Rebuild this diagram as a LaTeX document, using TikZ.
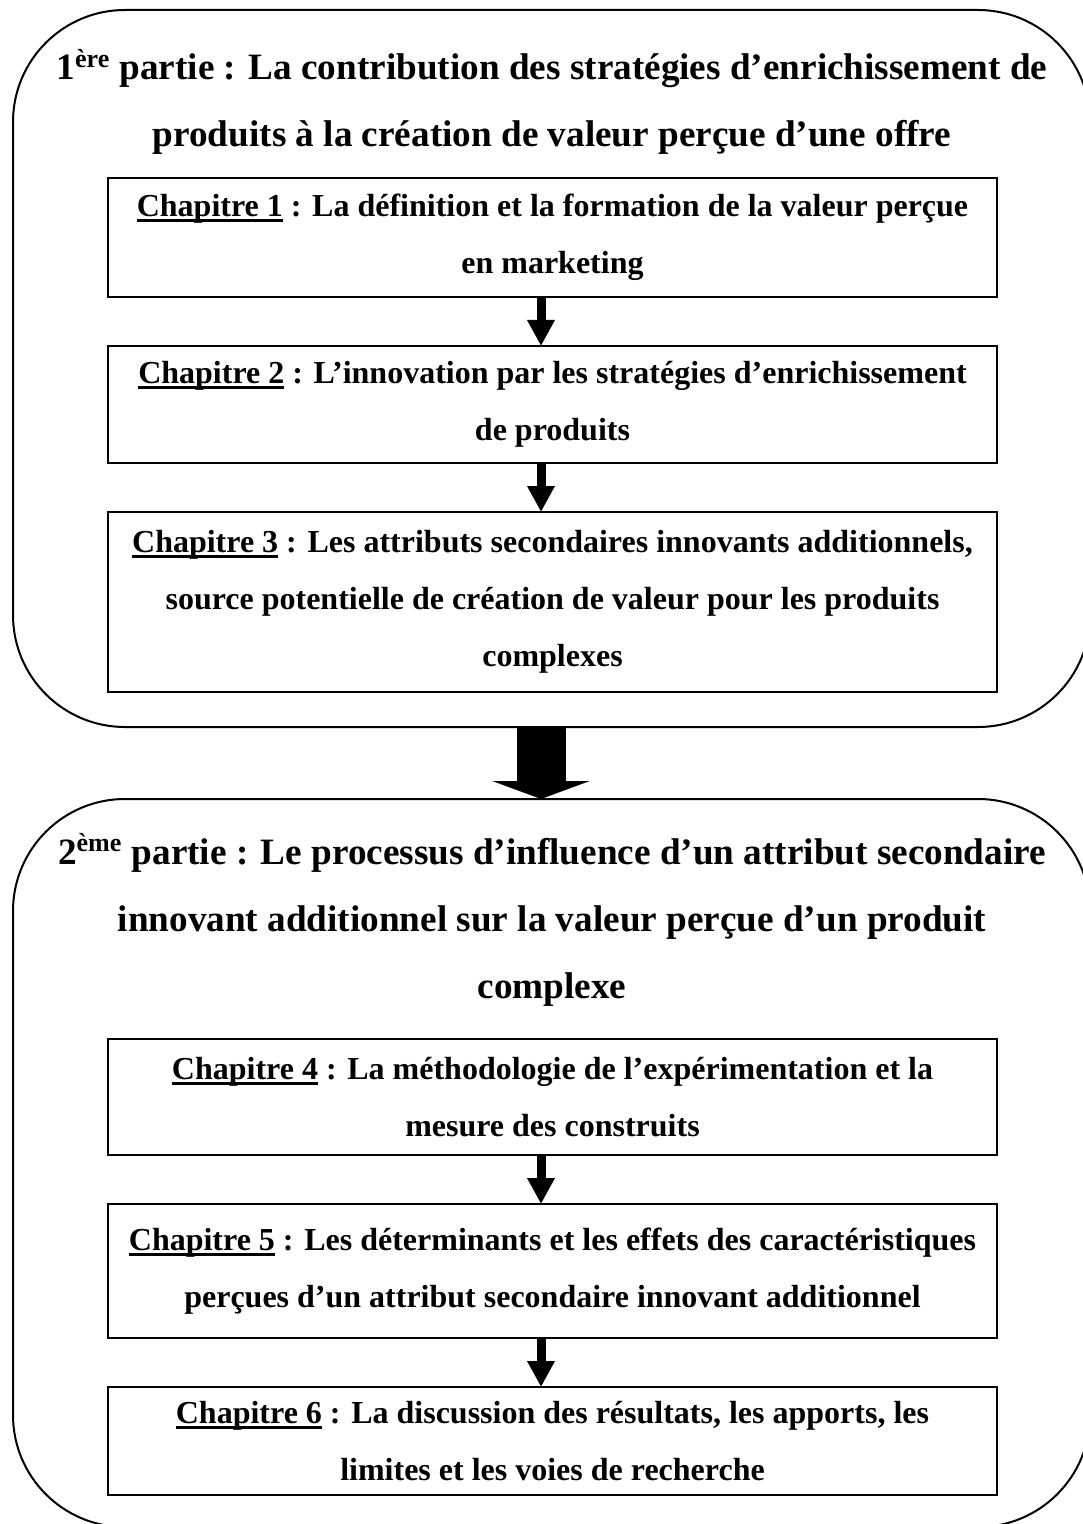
\documentclass[tikz,border=0pt]{standalone}
\usepackage{fontspec}
\setmainfont{Liberation Serif}
\usetikzlibrary{arrows.meta}
% sizes in pixels of the page (1px = 0.5pt)
\newcommand{\chapwidth}{444.5pt}
\newcommand{\partwidth}{538.5pt}
\newcommand{\midx}{541}
\newcommand{\textx}{552.5}
\newcommand{\titlefont}{\fontsize{18.6}{33.5}\selectfont\bfseries}
\newcommand{\chapfont}{\fontsize{16}{28.5}\selectfont\bfseries}
\newcommand{\chapnum}[1]{%
  \setbox0\hbox{Chapitre #1}\rlap{\rule[-2.6pt]{\wd0}{1.5pt}}\box0\relax}
\tikzset{
  partbox/.style={draw, line width=1pt, rounded corners=56pt,
    minimum width=\partwidth, inner sep=0pt, outer sep=0pt},
  parttitle/.style={align=center, font=\titlefont, inner sep=0pt,
    anchor=base},
  chapbox/.style={draw, line width=1pt, minimum width=\chapwidth,
    align=center, font=\chapfont, inner sep=0pt, outer sep=0pt},
  thinarrow/.style={line width=4.5pt,
    -{Triangle[width=13pt,length=13pt]}},
  bigarrow/.style={line width=24.5pt,
    -{Triangle[width=48.5pt,length=9pt]}}
}
\begin{document}
\begin{tikzpicture}[x=0.5pt,y=-0.5pt]
  \useasboundingbox (0,0) rectangle (1082,1524);
  \coordinate (mid) at (\midx,0);
  % first part
  \node[partbox, minimum height=358.5pt] (part1) at (551.5,368.5) {};
  \node[parttitle] (title1) at (552,147)
    {1\textsuperscript{ère} partie : La contribution des stratégies d’enrichissement de\\
     produits à la création de valeur perçue d’une offre};
  \node[chapbox, minimum height=59.5pt] (chap1) at (\textx,237.5)
    {\chapnum{1} : La définition et la formation de la valeur perçue\\
     en marketing};
  \node[chapbox, minimum height=58.5pt] (chap2) at (\textx,404.5)
    {\chapnum{2} : L’innovation par les stratégies d’enrichissement\\
     de produits};
  \node[chapbox, minimum height=90pt] (chap3) at (\textx,602)
    {\chapnum{3} : Les attributs secondaires innovants additionnels,\\
     source potentielle de création de valeur pour les produits\\
     complexes};
  % second part
  \node[partbox, minimum height=364pt] (part2) at (551.5,1163) {};
  \node[parttitle] (title2) at (552,998)
    {2\textsuperscript{ème} partie : Le processus d’influence d’un attribut secondaire\\
     innovant additionnel sur la valeur perçue d’un produit\\
     complexe};
  \node[chapbox, minimum height=58pt] (chap4) at (\textx,1097)
    {\chapnum{4} : La méthodologie de l’expérimentation et la\\
     mesure des construits};
  \node[chapbox, minimum height=67pt] (chap5) at (\textx,1271)
    {\chapnum{5} : Les déterminants et les effets des caractéristiques\\
     perçues d’un attribut secondaire innovant additionnel};
  \node[chapbox, minimum height=54pt] (chap6) at (\textx,1441)
    {\chapnum{6} : La discussion des résultats, les apports, les\\
     limites et les voies de recherche};
  % arrows
  \draw[thinarrow] (chap1.south -| mid) -- (chap2.north -| mid);
  \draw[thinarrow] (chap2.south -| mid) -- (chap3.north -| mid);
  \draw[bigarrow] (part1.south -| mid) -- (part2.north -| mid);
  \draw[thinarrow] (chap4.south -| mid) -- (chap5.north -| mid);
  \draw[thinarrow] (chap5.south -| mid) -- (chap6.north -| mid);
\end{tikzpicture}
\end{document}
